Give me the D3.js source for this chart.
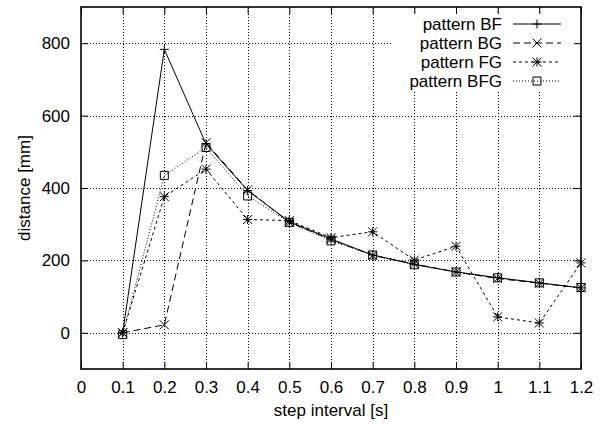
<!DOCTYPE html>
<html>
<head>
<meta charset="utf-8">
<script src="https://cdn.jsdelivr.net/npm/d3@7"></script>
<style>
  body { margin: 0; background: #fff; }
  svg text { font-family: "Liberation Sans", Arial, sans-serif; fill: #000; }
</style>
</head>
<body>
<svg id="chart" width="607" height="424"></svg>
<script>
// step interval [s]
const steps = [0.1, 0.2, 0.3, 0.4, 0.5, 0.6, 0.7, 0.8, 0.9, 1.0, 1.1, 1.2];
// distance [mm] per pattern
const patternBF  = [0, 783, 522, 393, 307, 259, 215, 189, 168, 152, 138, 124];
const patternBG  = [0, 22, 525, 395, 305, 258, 214, 190, 168, 150, 137, 124];
const patternFG  = [0, 376, 452, 313, 310, 263, 279, 201, 239, 44, 27, 193];
const patternBFG = [-5, 435, 512, 378, 305, 254, 215, 188, 168, 152, 138, 125];
const seriesNames = ["pattern BF", "pattern BG", "pattern FG", "pattern BFG"];
const xTicks = [0, 0.1, 0.2, 0.3, 0.4, 0.5, 0.6, 0.7, 0.8, 0.9, 1.0, 1.1, 1.2];
const yTicks = [0, 200, 400, 600, 800];

const series = [
  { name: seriesNames[0], values: patternBF,  dash: null,  marker: "plus" },
  { name: seriesNames[1], values: patternBG,  dash: "7,4", marker: "cross" },
  { name: seriesNames[2], values: patternFG,  dash: "3,3", marker: "star" },
  { name: seriesNames[3], values: patternBFG, dash: "1,2", marker: "square" }
];

const FS = 17;
const svg = d3.select("#chart");
const L = 81, R = 581, T = 7, B = 369;
const x = d3.scaleLinear().domain([0, 1.2]).range([L, R]);
const y = d3.scaleLinear().domain([-100, 900]).range([B, T]);

// grid
const grid = svg.append("g").attr("stroke", "#000").attr("stroke-width", 1)
  .attr("stroke-dasharray", "1,2").attr("shape-rendering", "crispEdges");
xTicks.filter(t => t > 0 && t < 1.2).forEach(t => {
  grid.append("line").attr("x1", Math.round(x(t)) + 0.5).attr("x2", Math.round(x(t)) + 0.5)
    .attr("y1", B).attr("y2", T);
});
yTicks.forEach(t => {
  grid.append("line").attr("y1", Math.round(y(t)) + 0.5).attr("y2", Math.round(y(t)) + 0.5)
    .attr("x1", L).attr("x2", R);
});

// legend background hides the grid beneath it
svg.append("rect").attr("x", 393).attr("y", 14).attr("width", 182).attr("height", 76)
  .attr("fill", "#fff");

// axes with mirrored inward ticks
const tickLen = 7;
const fmtX = d => (d === 0 ? "0" : d === 1 ? "1" : d3.format(".1f")(d));
svg.append("g").attr("transform", `translate(0,${B})`)
  .call(d3.axisBottom(x).tickValues(xTicks).tickSize(-tickLen).tickPadding(12).tickFormat(fmtX))
  .call(g => g.select(".domain").remove());
svg.append("g").attr("transform", `translate(0,${T})`)
  .call(d3.axisTop(x).tickValues(xTicks).tickSize(-tickLen).tickFormat(""))
  .call(g => g.select(".domain").remove());
svg.append("g").attr("transform", `translate(${L},0)`)
  .call(d3.axisLeft(y).tickValues(yTicks).tickSize(-tickLen).tickPadding(11))
  .call(g => g.select(".domain").remove());
svg.append("g").attr("transform", `translate(${R},0)`)
  .call(d3.axisRight(y).tickValues(yTicks).tickSize(-tickLen).tickFormat(""))
  .call(g => g.select(".domain").remove());
svg.selectAll(".tick text").attr("font-size", FS).attr("font-family", "Liberation Sans, Arial, sans-serif");
svg.selectAll(".tick line").attr("stroke", "#000");

// frame
svg.append("rect").attr("x", L).attr("y", T).attr("width", R - L).attr("height", B - T)
  .attr("fill", "none").attr("stroke", "#000").attr("stroke-width", 1.6);

// axis titles
svg.append("text").attr("x", (L + R) / 2).attr("y", 416).attr("text-anchor", "middle")
  .attr("font-size", FS).text("step interval [s]");
svg.append("text").attr("transform", `translate(30,${(T + B) / 2}) rotate(-90)`)
  .attr("text-anchor", "middle").attr("font-size", FS).text("distance [mm]");

function drawMarker(g, kind, cx, cy) {
  const s = 4.5;
  const p = g.append("path").attr("fill", "none").attr("stroke", "#000").attr("stroke-width", 1);
  if (kind === "plus") {
    p.attr("d", `M${cx - s},${cy}H${cx + s}M${cx},${cy - s}V${cy + s}`);
  } else if (kind === "cross") {
    p.attr("d", `M${cx - s},${cy - s}L${cx + s},${cy + s}M${cx - s},${cy + s}L${cx + s},${cy - s}`);
  } else if (kind === "star") {
    p.attr("d", `M${cx - s},${cy}H${cx + s}M${cx},${cy - s}V${cy + s}` +
      `M${cx - s},${cy - s}L${cx + s},${cy + s}M${cx - s},${cy + s}L${cx + s},${cy - s}`);
  } else {
    const h = 4;
    p.attr("d", `M${cx - h},${cy - h}H${cx + h}V${cy + h}H${cx - h}Z`);
  }
}

const line = d3.line().x((d, i) => x(steps[i])).y(d => y(d));
const plot = svg.append("g");
series.forEach(s => {
  plot.append("path").datum(s.values).attr("d", line).attr("fill", "none")
    .attr("stroke", "#000").attr("stroke-width", 1)
    .attr("stroke-dasharray", s.dash);
  s.values.forEach((v, i) => drawMarker(plot, s.marker, x(steps[i]), y(v)));
});

// legend
const lg = svg.append("g");
series.forEach((s, i) => {
  const ly = 24 + i * 19;
  lg.append("text").attr("x", 502).attr("y", ly).attr("dy", "0.35em")
    .attr("text-anchor", "end").attr("font-size", FS).text(s.name);
  lg.append("line").attr("x1", 513).attr("x2", 561).attr("y1", ly).attr("y2", ly)
    .attr("stroke", "#000").attr("stroke-width", 1).attr("stroke-dasharray", s.dash);
  drawMarker(lg, s.marker, 537, ly);
});
</script>
</body>
</html>
